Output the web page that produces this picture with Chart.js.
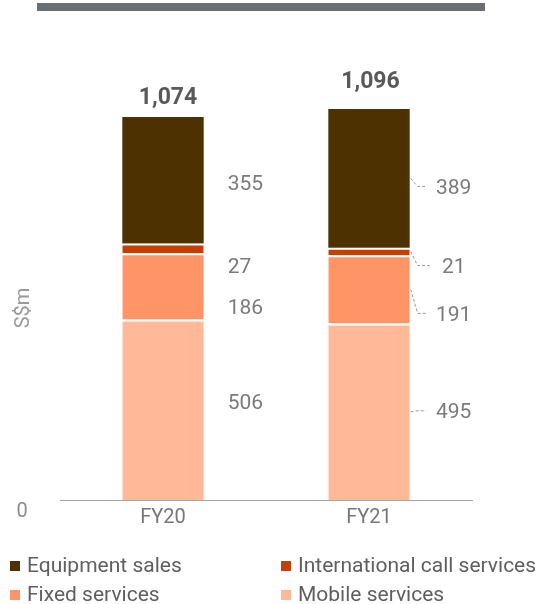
<!DOCTYPE html>
<html>
<head>
<meta charset="utf-8">
<script src="https://cdn.jsdelivr.net/npm/chart.js@4/dist/chart.umd.min.js"></script>
<style>
  html, body { margin: 0; padding: 0; background: #fff; }
  body { width: 538px; height: 604px; position: relative; overflow: hidden; font-family: Roboto, sans-serif; }
  #topbar { position: absolute; left: 37px; top: 3px; width: 448px; height: 8px; background: #6c6f72; }
  #c { position: absolute; left: 0; top: 0; }
  #legend { position: absolute; left: 0; top: 550px; width: 538px; }
  .li { position: absolute; font-size: 21px; color: #5f5f5f; white-space: nowrap; line-height: 30px; height: 30px; }
  .li span.sw { display: inline-block; width: 10px; height: 10px; margin-right: 7px; vertical-align: 1px; }
</style>
</head>
<body>
<div id="topbar"></div>
<canvas id="c" width="538" height="604"></canvas>
<div id="legend"></div>
<script>
// ---- data ----
const categories = ['FY20', 'FY21'];
const seriesNames = ['Mobile services', 'Fixed services', 'International call services', 'Equipment sales'];
const mobile = [506, 495];
const fixed = [186, 191];
const intlCall = [27, 21];
const equipment = [355, 389];
const totals = [1074, 1096];
const totalLabels = ['1,074', '1,096'];
const yTickLabels = ['0'];
const axisTitle = 'S$m';

// ---- styles (not data) ----
const colors = ['#ffb999', '#ff9466', '#c23f06', '#4e3100'];
const seriesValues = [mobile, fixed, intlCall, equipment];
// label nudges in px relative to segment centre [series][category]
const labelNudge = [[-8, -1], [20, 24], [17, 14], [2, 8]];
const totalNudge = [[5, -21], [1.5, -29]];
const legendOrder = [3, 2, 1, 0];

const datasets = seriesNames.map((name, i) => ({
  label: name,
  data: seriesValues[i],
  backgroundColor: colors[i],
  borderColor: '#ffffff',
  borderWidth: i < 3 ? { top: 2, left: 0, right: 0, bottom: 0 } : 0,
  borderSkipped: false,
  categoryPercentage: 1,
  barPercentage: 0.395
}));

const VAL_FONT = '21px Roboto';
const labelPlugin = {
  id: 'labels',
  afterDatasetsDraw(chart) {
    const ctx = chart.ctx;
    const y = chart.scales.y;
    const x = chart.scales.x;
    ctx.save();
    // value labels
    ctx.font = VAL_FONT;
    ctx.fillStyle = '#7b7b7b';
    chart.data.datasets.forEach((ds, si) => {
      const meta = chart.getDatasetMeta(si);
      meta.data.forEach((bar, ci) => {
        const props = bar.getProps(['x', 'y', 'base', 'width'], true);
        const right = props.x + props.width / 2;
        const cy = (props.y + props.base) / 2;
        const ly = cy + labelNudge[si][ci];
        const txt = String(ds.data[ci]);
        const w = ctx.measureText(txt).width;
        let lx;
        if (ci === 0) {
          lx = right + 24;
        } else {
          lx = right + 44 - w / 2;
          // leader line
          ctx.save();
          ctx.strokeStyle = '#9a9a9a';
          ctx.lineWidth = 1;
          ctx.setLineDash([3, 2]);
          ctx.beginPath();
          ctx.moveTo(right + 1, cy);
          ctx.lineTo(right + 8, ly);
          ctx.lineTo(lx - 10, ly);
          ctx.stroke();
          ctx.restore();
        }
        ctx.textAlign = 'left';
        ctx.textBaseline = 'alphabetic';
        ctx.fillText(txt, lx, ly + 7.5);
      });
    });
    // totals
    ctx.font = 'bold 23px Roboto';
    ctx.fillStyle = '#595959';
    ctx.textAlign = 'center';
    categories.forEach((c, ci) => {
      const cx = x.getPixelForValue(ci) + totalNudge[ci][0];
      const ty = y.getPixelForValue(totals[ci]) + totalNudge[ci][1];
      ctx.fillText(totalLabels[ci], cx, ty + 8);
    });
    // zero tick and axis title
    ctx.font = '20px Roboto';
    ctx.fillStyle = '#8c8c8c';
    ctx.textAlign = 'center';
    ctx.fillText(yTickLabels[0], 22, y.getPixelForValue(0) + 17);
    ctx.save();
    ctx.translate(29, 308);
    ctx.rotate(-Math.PI / 2);
    ctx.fillStyle = '#9a9a9a';
    ctx.fillText(axisTitle, 0, 0);
    ctx.restore();
    ctx.restore();
  }
};

new Chart(document.getElementById('c'), {
  type: 'bar',
  data: { labels: categories, datasets },
  options: {
    responsive: false,
    animation: false,
    layout: { padding: { left: 60, right: 66, top: 72, bottom: 64 } },
    plugins: { legend: { display: false }, tooltip: { enabled: false } },
    scales: {
      x: {
        stacked: true,
        grid: { display: false, drawTicks: false },
        border: { display: true, color: '#a6a6a6', width: 1 },
        ticks: { font: { family: 'Roboto', size: 20 }, color: '#777777', padding: 6 },
        afterFit(s) { s.height = 40; }
      },
      y: {
        stacked: true,
        display: false,
        min: 0,
        max: 1200
      }
    }
  },
  plugins: [labelPlugin]
});

// legend (HTML, two columns)
const legend = document.getElementById('legend');
const colX = [10, 281];
legendOrder.forEach((si, k) => {
  const d = document.createElement('div');
  d.className = 'li';
  d.style.left = colX[k % 2] + 'px';
  d.style.top = (Math.floor(k / 2) * 29) + 'px';
  const sw = document.createElement('span');
  sw.className = 'sw';
  sw.style.background = colors[si];
  d.appendChild(sw);
  d.appendChild(document.createTextNode(seriesNames[si]));
  legend.appendChild(d);
});
</script>
</body>
</html>
